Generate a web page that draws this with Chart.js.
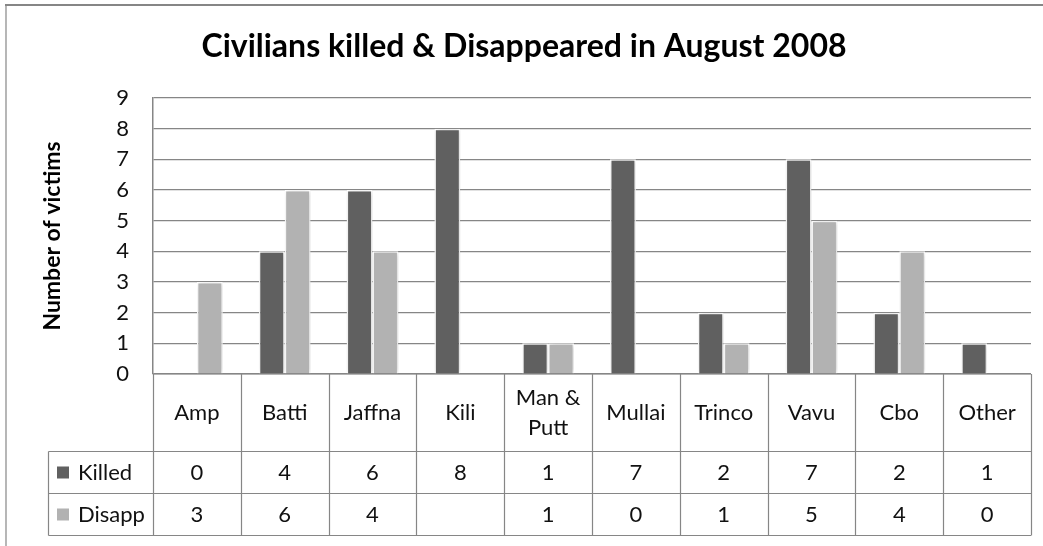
<!DOCTYPE html>
<html>
<head>
<meta charset="utf-8">
<script src="https://cdn.jsdelivr.net/npm/chart.js@4.4.0/dist/chart.umd.min.js"></script>
<style>
  html, body { margin: 0; padding: 0; background: #fff; }
  #wrap { width: 1043px; height: 546px; position: relative; }
</style>
</head>
<body>
<div id="wrap"><canvas id="c" width="1043" height="546"></canvas></div>
<script>
const chartTitle = 'Civilians killed & Disappeared in August 2008';
const yAxisTitle = 'Number of victims';
const categories = ['Amp', 'Batti', 'Jaffna', 'Kili', ['Man &', 'Putt'], 'Mullai', 'Trinco', 'Vavu', 'Cbo', 'Other'];
const seriesNames = ['Killed', 'Disapp'];
const killed = [0, 4, 6, 8, 1, 7, 2, 7, 2, 1];
const disapp = [3, 6, 4, null, 1, 0, 1, 5, 4, 0];
const yTicks = [0, 1, 2, 3, 4, 5, 6, 7, 8, 9];

const COL_KILLED = '#606060';
const COL_DISAPP = '#b2b2b2';
const LINE = '#868686';
const FONT = 'Lato, "Open Sans", sans-serif';

const frameAndTable = {
  id: 'frameAndTable',
  beforeDatasetsDraw(chart) {
    const ctx = chart.ctx;
    ctx.save();
    ctx.shadowColor = 'rgba(0,0,0,0.20)';
    ctx.shadowBlur = 5;
    ctx.shadowOffsetX = 1;
    ctx.shadowOffsetY = 0;
  },
  afterDatasetsDraw(chart) {
    chart.ctx.restore();
  },
  afterDraw(chart) {
    const ctx = chart.ctx;
    const ca = chart.chartArea;
    const n = categories.length;
    const step = (ca.right - ca.left) / n;
    const yTop = ca.bottom;
    const y1 = 451.5, y2 = 493.5, y3 = 535.5;
    const legL = 48.5;
    ctx.save();
    // outer frame (top and left)
    ctx.strokeStyle = LINE;
    ctx.lineWidth = 2;
    ctx.beginPath(); ctx.moveTo(5, 5); ctx.lineTo(1043, 5); ctx.stroke();
    ctx.lineWidth = 1.2;
    ctx.beginPath(); ctx.moveTo(6, 5); ctx.lineTo(6, 546); ctx.stroke();

    // table grid
    ctx.lineWidth = 1.2;
    ctx.beginPath();
    ctx.moveTo(ca.left, yTop); ctx.lineTo(ca.right, yTop);
    ctx.moveTo(legL, y1); ctx.lineTo(ca.right, y1);
    ctx.moveTo(legL, y2); ctx.lineTo(ca.right, y2);
    ctx.moveTo(legL, y3); ctx.lineTo(ca.right, y3);
    ctx.moveTo(legL, y1); ctx.lineTo(legL, y3);
    for (let i = 0; i <= n; i++) {
      const x = Math.round(ca.left + i * step) + 0.5;
      ctx.moveTo(x, yTop); ctx.lineTo(x, y3);
    }
    ctx.stroke();

    // category labels
    ctx.fillStyle = '#111';
    ctx.font = '22px ' + FONT;
    ctx.textAlign = 'center';
    ctx.textBaseline = 'middle';
    const xs = chart.scales.x;
    categories.forEach((c, i) => {
      const cx = xs.getPixelForValue(i);
      const cy = (yTop + y1) / 2;
      if (Array.isArray(c)) {
        const lh = 30;
        c.forEach((line, k) => {
          ctx.fillText(line, cx, cy + (k - (c.length - 1) / 2) * lh);
        });
      } else {
        ctx.fillText(c, cx, cy);
      }
    });
    // value rows
    const rows = [[killed, (y1 + y2) / 2], [disapp, (y2 + y3) / 2]];
    rows.forEach(([arr, cy]) => {
      arr.forEach((v, i) => {
        if (v === null || v === undefined) return;
        ctx.fillText(String(v), xs.getPixelForValue(i), cy);
      });
    });
    // legend keys
    ctx.textAlign = 'left';
    const cols = [COL_KILLED, COL_DISAPP];
    seriesNames.forEach((s, k) => {
      const cy = rows[k][1];
      ctx.fillStyle = cols[k];
      ctx.fillRect(57, cy - 6, 12, 12);
      ctx.fillStyle = '#111';
      ctx.fillText(s, 78, cy);
    });

    // chart title
    ctx.textAlign = 'center';
    ctx.font = 'bold 32px ' + FONT;
    ctx.fillStyle = '#000';
    ctx.fillText(chartTitle, 524, 47);
    ctx.restore();
  }
};

function build() {
  new Chart(document.getElementById('c'), {
    type: 'bar',
    data: {
      labels: categories,
      datasets: [
        { label: seriesNames[0], data: killed, backgroundColor: COL_KILLED, borderColor: '#ffffff', borderWidth: 1.5,
          categoryPercentage: 0.59, barPercentage: 1.0 },
        { label: seriesNames[1], data: disapp, backgroundColor: COL_DISAPP, borderColor: '#ffffff', borderWidth: 1.5,
          categoryPercentage: 0.59, barPercentage: 1.0 }
      ]
    },
    options: {
      responsive: false,
      animation: false,
      devicePixelRatio: 1,
      layout: { padding: { top: 98, right: 12, bottom: 172, left: 0 } },
      plugins: {
        legend: { display: false },
        title: { display: false },
        tooltip: { enabled: false }
      },
      scales: {
        x: { display: false, offset: true },
        y: {
          min: 0, max: 9,
          afterBuildTicks(scale) { scale.ticks = yTicks.map(v => ({ value: v })); },
          afterFit(scale) { scale.width = 153; },
          ticks: { padding: 24, color: '#111', font: { family: FONT, size: 22 } },
          grid: { color: LINE, lineWidth: 1.2, drawTicks: false },
          border: { color: LINE, width: 1.5 },
          title: { display: true, text: yAxisTitle, color: '#000',
                   font: { family: FONT, size: 23, weight: 'bold' }, padding: { top: 39, bottom: 0 } }
        }
      }
    },
    plugins: [frameAndTable]
  });
}

if (document.fonts && document.fonts.load) {
  Promise.all([document.fonts.load('22px Lato'), document.fonts.load('bold 32px Lato')])
    .then(build, build);
} else { build(); }
</script>
</body>
</html>
